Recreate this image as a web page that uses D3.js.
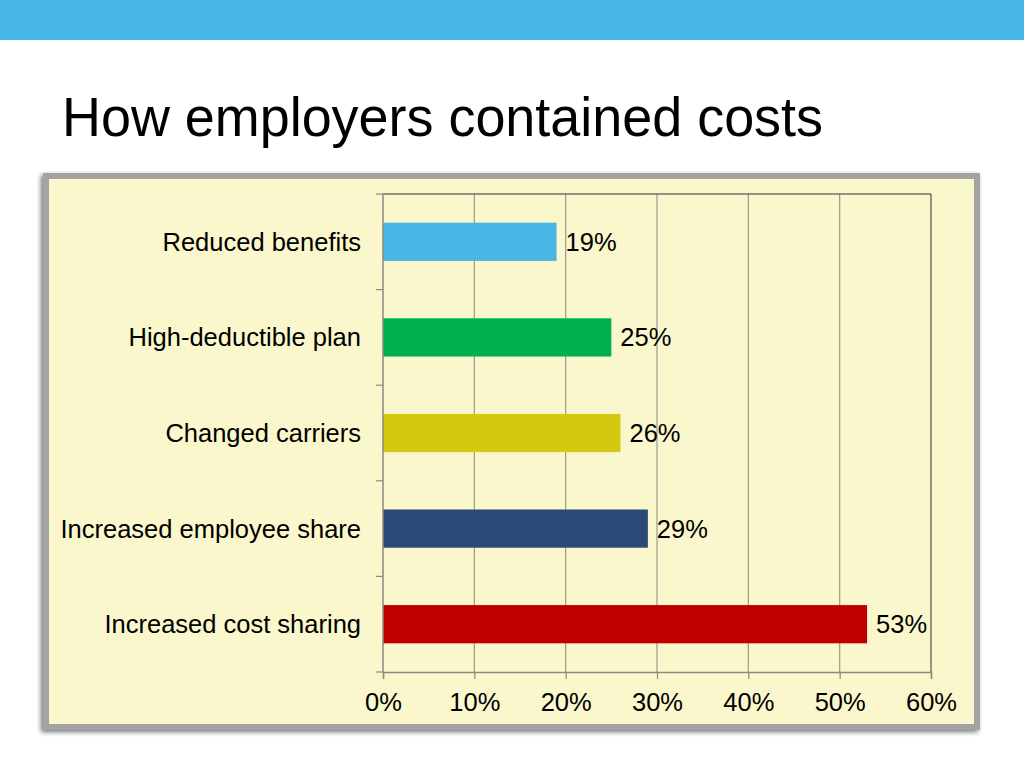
<!DOCTYPE html>
<html><head><meta charset="utf-8">
<script src="https://cdn.jsdelivr.net/npm/d3@7"></script>
<style>body{margin:0;background:#fff;}svg{display:block;}</style>
</head><body>
<script>
const categories = ["Reduced benefits","High-deductible plan","Changed carriers","Increased employee share","Increased cost sharing"];
const values = [19,25,26,29,53];
const colors = ["#47b6e6","#00b050","#d4c910","#2c4a78","#c00000"];
const tickValues = [0,10,20,30,40,50,60];
const title = "How employers contained costs";

const W=1024,H=768;
const FS=25.5;
const svg=d3.select("body").append("svg").attr("width",W).attr("height",H)
  .style("font-family","'Liberation Sans', Arial, sans-serif");

const defs=svg.append("defs");
const f=defs.append("filter").attr("id","sh").attr("x","-5%").attr("y","-5%").attr("width","110%").attr("height","110%");
f.append("feGaussianBlur").attr("in","SourceAlpha").attr("stdDeviation",2.5).attr("result","b");
f.append("feOffset").attr("in","b").attr("dx",-2).attr("dy",2).attr("result","o");
f.append("feComponentTransfer").attr("in","o").attr("result","o2").append("feFuncA").attr("type","linear").attr("slope",0.55);
const m=f.append("feMerge");m.append("feMergeNode").attr("in","o2");m.append("feMergeNode").attr("in","SourceGraphic");

svg.append("rect").attr("x",0).attr("y",0).attr("width",W).attr("height",40).attr("fill","#46b7e6");

svg.append("text").attr("x",62).attr("y",136).attr("font-size",56)
  .attr("textLength",761).attr("lengthAdjust","spacingAndGlyphs")
  .attr("fill","#000").text(title);

svg.append("rect").attr("x",46).attr("y",176).attr("width",931).attr("height",551)
  .attr("fill","#f9f7cb").attr("stroke","#a3a3a3").attr("stroke-width",6).attr("filter","url(#sh)");

const x0=383,x1=931,y0=194,y1=672;
const x=d3.scaleLinear().domain([0,60]).range([x0,x1]);
const y=d3.scaleBand().domain(categories).range([y0,y1]).paddingInner(0.6).paddingOuter(0.3);

const g=svg.append("g");
g.selectAll("line.grid").data(tickValues.filter(d=>d>0&&d<60)).enter().append("line")
  .attr("x1",d=>x(d)).attr("x2",d=>x(d)).attr("y1",y0).attr("y2",y1)
  .attr("stroke","#9a9a90").attr("stroke-width",1.2);
g.append("path").attr("d",`M${x0},${y0}H${x1}V${y1}`).attr("fill","none").attr("stroke","#333").attr("stroke-width",1);

g.selectAll("rect.bar").data(categories).enter().append("rect")
  .attr("x",x(0)).attr("y",d=>y(d)).attr("height",y.bandwidth())
  .attr("width",(d,i)=>x(values[i])-x(0)).attr("fill",(d,i)=>colors[i]);

g.selectAll("text.val").data(categories).enter().append("text")
  .attr("x",(d,i)=>x(values[i])+9).attr("y",d=>y(d)+y.bandwidth()/2+9)
  .attr("font-size",FS).attr("fill","#000").text((d,i)=>values[i]+"%");

const yEdges=d3.range(categories.length+1).map(i=>y0+i*(y1-y0)/categories.length);
g.append("line").attr("x1",x0).attr("x2",x0).attr("y1",y0).attr("y2",y1).attr("stroke","#8a8a80").attr("stroke-width",1.5);
g.selectAll("line.yt").data(yEdges).enter().append("line")
  .attr("x1",x0-7).attr("x2",x0).attr("y1",d=>d).attr("y2",d=>d).attr("stroke","#8a8a80").attr("stroke-width",1.2);
g.selectAll("text.cat").data(categories).enter().append("text")
  .attr("x",361).attr("y",d=>y(d)+y.bandwidth()/2+9).attr("text-anchor","end")
  .attr("font-size",FS).attr("fill","#000").text(d=>d);

const xa=g.append("g").attr("transform",`translate(0,${y1})`)
  .call(d3.axisBottom(x).tickValues(tickValues).tickFormat(d=>d+"%").tickSize(7).tickPadding(14));
xa.select(".domain").attr("stroke","#8a8a80").attr("stroke-width",1.5);
xa.selectAll(".tick line").attr("stroke","#8a8a80").attr("stroke-width",1.2);
xa.selectAll(".tick text").attr("font-size",FS).attr("fill","#000").attr("font-family","'Liberation Sans', Arial, sans-serif");
</script>
</body></html>
